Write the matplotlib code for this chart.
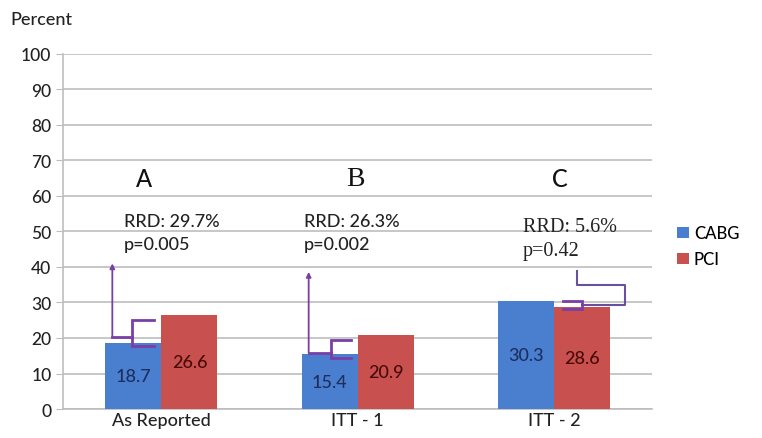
import numpy as np
import matplotlib.pyplot as plt

plt.rcParams['font.family'] = ['Lato', 'DejaVu Sans']
plt.rcParams['font.weight'] = 'medium'

groups = ['As Reported', 'ITT - 1', 'ITT - 2']
cabg = [18.7, 15.4, 30.3]
pci = [26.6, 20.9, 28.6]
letters = ['A', 'B', 'C']
rrd = ['29.7%', '26.3%', '5.6%']
pvals = ['0.005', '0.002', '0.42']

blue = '#4a7fcf'
red = '#c8504e'
purple = '#7a3fa6'
grid_c = '#bdbdbd'

fig = plt.figure(figsize=(7.62, 4.39), dpi=100)
ax = fig.add_axes([0.083, 0.066, 0.773, 0.809])

x = np.arange(len(groups))
w = 0.285
b1 = ax.bar(x - w / 2, cabg, w, color=blue, label='CABG', zorder=3)
b2 = ax.bar(x + w / 2, pci, w, color=red, label='PCI', zorder=3)

for xi, v in zip(x, cabg):
    ax.text(xi - w / 2, v / 2, f'{v}', ha='center', va='center',
            fontsize=13, color='#1c2f5e', zorder=4)
for xi, v in zip(x, pci):
    ax.text(xi + w / 2, v / 2, f'{v}', ha='center', va='center',
            fontsize=13, color='#4a0a0a', zorder=4)

ax.set_xlim(-0.5, 2.5)
ax.set_ylim(0, 100)
ax.set_yticks(range(0, 101, 10))
ax.yaxis.grid(True, color=grid_c, lw=1.2, zorder=0)
ax.set_axisbelow(True)
ax.set_xticks(x)
ax.set_xticklabels(groups, fontsize=13)
ax.tick_params(axis='x', length=0, pad=2, colors='#222222')
ax.tick_params(axis='y', length=5, color=grid_c, labelsize=12.5, colors='#222222')
for s in ['top', 'right']:
    ax.spines[s].set_visible(False)
for s in ['left', 'bottom']:
    ax.spines[s].set_color(grid_c)
    ax.spines[s].set_linewidth(1.2)

fig.text(0.013, 0.955, 'Percent', fontsize=13, color='#222222', va='center')

# group letters and test results (mixed fonts, as pasted together)
serif = ['Liberation Serif', 'DejaVu Serif']
sans = ['Lato', 'DejaVu Sans']
letter_font = [sans, serif, sans]
letter_weight = ['medium', 'normal', 'medium']
letter_size = [17, 20, 17]
text_font = [sans, sans, serif]
text_size = [13, 13, 14.5]
letter_x = [-0.09, 0.99, 2.03]
txt_x = [-0.19, 0.725, 1.84]
txt_y = [53, 53, 51.3]
for i in range(3):
    ax.text(letter_x[i], 65, letters[i], ha='center', va='center',
            fontsize=letter_size[i], family=letter_font[i],
            fontweight=letter_weight[i], color='#111111')
    ax.text(txt_x[i], txt_y[i], f'RRD: {rrd[i]}', ha='left', va='center',
            fontsize=text_size[i], family=text_font[i], color='#222222')
    ax.text(txt_x[i], txt_y[i] - 6.6, f'p={pvals[i]}', ha='left', va='center',
            fontsize=text_size[i], family=text_font[i], color='#222222')


def brace(ax, xv, lo, hi, xr):
    ax.plot([xr, xv, xv, xr], [hi, hi, lo, lo], color=purple, lw=2,
            solid_joinstyle='miter', zorder=5)


# A and B: arrow line from the text down to a brace on the CABG bar
lead_x = [-0.25, 0.75]
brace_x = [-0.148, 0.863]
tip_x = [-0.04, 0.964]
tops = [41, 38.6]
for i in range(2):
    lo = cabg[i] - 1.0
    hi = pci[i] - 1.6
    mid = (lo + hi) / 2 - 1
    ax.annotate('', xy=(lead_x[i], tops[i]), xytext=(lead_x[i], mid),
                arrowprops=dict(arrowstyle='-|>', color=purple, lw=1.3,
                                mutation_scale=7, shrinkA=0, shrinkB=0),
                zorder=5)
    ax.plot([lead_x[i], brace_x[i]], [mid, mid], color=purple, lw=2, zorder=5)
    brace(ax, brace_x[i], lo, hi, tip_x[i])

# C: elbow line from the text to a brace on the PCI bar
lo = pci[2] - 0.4
hi = cabg[2] + 0.1
mid = (lo + hi) / 2
ax.plot([2.117, 2.117, 2.36, 2.36, 2.14], [38.9, 34.9, 34.9, mid, mid],
        color='#6a4fa0', lw=1.5, zorder=5)
brace(ax, 2.14, lo, hi, 2.046)

leg = fig.legend(handles=[b1, b2], loc='upper left', bbox_to_anchor=(0.88, 0.50),
                 frameon=False, fontsize=12, handlelength=0.7, handleheight=0.7,
                 handletextpad=0.3, labelspacing=0.6, borderaxespad=0)

fig.savefig('out.png', dpi=100)
